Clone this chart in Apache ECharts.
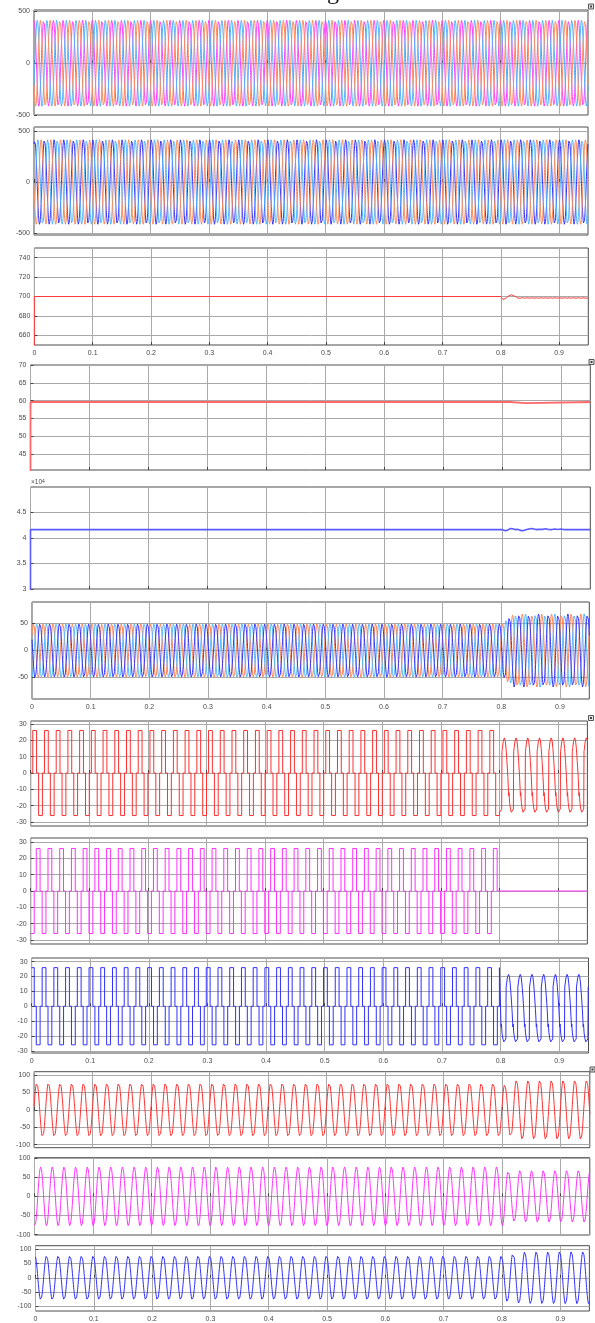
<!DOCTYPE html>
<html>
<head>
<meta charset="utf-8">
<script src="https://cdn.jsdelivr.net/npm/echarts@6/dist/echarts.min.js"></script>
<style>
  html, body { margin: 0; padding: 0; background: #ffffff; }
  #chart { width: 595px; height: 1323px; }
</style>
</head>
<body>
<div id="chart"></div>
<script>
// ---------- time base ----------
const tEnd = 0.95;                 // simulation stop time (s)
const tStep = 0.0002;              // sample step for the sinusoidal traces
const tLoadChange = 0.8;           // instant of the load change
const xTicks = [0, 0.1, 0.2, 0.3, 0.4, 0.5, 0.6, 0.7, 0.8, 0.9];

// ---------- grid-side three-phase quantities ----------
const gridHz = 60;
const voltTicks = [-500, 0, 500];
const voltPeak = 415;
const voltPeakMs = [0.0, 5.56, 11.11];          // phase a, b, c crest positions in the cycle
const busVoltColors = ['#ff3dff', '#4fb4ff', '#ff8a5a'];
const loadVoltColors = ['#3434ff', '#4fb4ff', '#ff8a5a'];

const currentTicks = [-50, 0, 50];
const currentPeakMs = [2.5, 8.06, 13.61];
const currentAmpKeys = [[0, 50], [0.803, 50], [0.812, 60], [0.822, 68], [0.95, 68]];
const currentColors = ['#ff8452', '#50b8ff', '#3434ff'];

// ---------- DC link voltage (V) ----------
const dcTicks = [660, 680, 700, 720, 740];
const dcTrace = [
  [0, 600], [0, 700], [0.8, 700], [0.802, 698.5], [0.804, 696.8], [0.807, 697.2],
  [0.81, 698.8], [0.814, 700.8], [0.818, 701.8], [0.821, 701.6], [0.825, 700],
  [0.829, 698.4], [0.833, 698.2], [0.837, 698.7], [0.841, 698.2], [0.845, 698.7],
  [0.849, 698.2], [0.853, 698.7], [0.857, 698.2], [0.861, 698.7], [0.865, 698.2],
  [0.869, 698.7], [0.873, 698.2], [0.877, 698.7], [0.881, 698.2], [0.885, 698.7],
  [0.889, 698.2], [0.893, 698.7], [0.897, 698.2], [0.901, 698.7], [0.905, 698.2],
  [0.909, 698.7], [0.913, 698.2], [0.917, 698.7], [0.921, 698.2], [0.925, 698.7],
  [0.929, 698.2], [0.933, 698.7], [0.937, 698.2], [0.941, 698.7], [0.945, 698.2],
  [0.95, 698.5]
];

// ---------- measured frequency (Hz) ----------
const freqTicks = [45, 50, 55, 60, 65, 70];
const freqTrace = [[0, 0], [0, 59.6], [0.814, 59.6], [0.814, 59.3], [0.84, 59.3], [0.84, 59.6], [0.95, 59.6]];

// ---------- power (W, shown x10^4) ----------
const powerTicks = [30000, 35000, 40000, 45000];
const powerTrace = [
  [0, 0], [0, 41650], [0.8, 41650], [0.803, 41500], [0.806, 41400], [0.81, 41550],
  [0.814, 41850], [0.818, 41800], [0.822, 41650], [0.826, 41700], [0.83, 41550],
  [0.834, 41450], [0.838, 41500], [0.842, 41650], [0.846, 41750], [0.85, 41850],
  [0.854, 41750], [0.858, 41650], [0.862, 41700], [0.87, 41700], [0.874, 41800],
  [0.878, 41700], [0.885, 41650], [0.89, 41750], [0.895, 41650], [0.9, 41750],
  [0.905, 41650], [0.95, 41650]
];

// ---------- H-bridge output voltages ----------
const bridgeHz = 50;
const bridgeTicks = [-30, -20, -10, 0, 10, 20, 30];
// one 20 ms cycle as [ms from cycle start, level held until the next step]
const bridgeStepsA = [[0, 0], [3.5, 26], [10, 0], [13.5, -26]];
const bridgeStepsB = [[0, -26], [6, 0], [9.5, 26], [16, 0], [19.5, -26]];
const bridgeStepsC = [[0, 26], [4.5, 0], [8, -26], [14.5, 0], [18, 26]];
const bridgeStopB = 0.799;          // phase B bridge switched off
// one cycle after the load change, [ms, value]
const bridgeAfterCycle = [
  [0, -22], [0.5, 13], [1.2, 15], [2.5, 19], [4.5, 21.5], [6, 20], [7.5, 15],
  [9, 7], [10.5, -2], [11.5, -10], [12, -14], [12.5, -12], [13.5, -18],
  [15, -22], [16.5, -24], [18, -25], [19.5, -23]
];
const bridgeAfterOriginA = 0.8037;
const bridgeAfterOriginC = 0.809;

// ---------- filtered output voltages ----------
const outTicks = [-100, -50, 0, 50, 100];
const outPeakMs = [4.6, 10.6, 19.0];
const outAmpKeysA = [[0, 78], [0.8, 78], [0.806, 70], [0.822, 86], [0.95, 86]];
const outAmpKeysB = [[0, 77], [0.8, 77], [0.813, 64], [0.83, 68], [0.95, 68]];
const outAmpKeysC = [[0, 77], [0.8, 77], [0.815, 88], [0.84, 91], [0.95, 92]];

// ---------- trace builders ----------
function envelope(keys, t) {
  for (let i = 1; i < keys.length; i++) {
    if (t <= keys[i][0]) {
      const [t0, a0] = keys[i - 1], [t1, a1] = keys[i];
      return a0 + (a1 - a0) * (t - t0) / (t1 - t0);
    }
  }
  return keys[keys.length - 1][1];
}

function sineTrace(freq, peakMs, ampKeys) {
  const pts = [];
  const n = Math.round(tEnd / tStep);
  for (let i = 0; i <= n; i++) {
    const t = i * tStep;
    pts.push([t, envelope(ampKeys, t) * Math.cos(2 * Math.PI * freq * (t - peakMs / 1000))]);
  }
  return pts;
}

function stepTrace(steps, tTo) {
  const periodMs = 1000 / bridgeHz;
  const pts = [];
  let prev = null;
  for (let k = 0; ; k++) {
    for (const [ms, lvl] of steps) {
      const t = (k * periodMs + ms) / 1000;
      if (t >= tTo) { pts.push([tTo, prev]); return pts; }
      if (prev !== null) pts.push([t, prev]);
      pts.push([t, lvl]);
      prev = lvl;
    }
  }
}

function cycleTrace(cycle, origin, tFrom, tTo) {
  const periodMs = 1000 / bridgeHz;
  const pts = [];
  const kStart = Math.floor((tFrom - origin) * 1000 / periodMs) - 1;
  for (let k = kStart; ; k++) {
    for (const [ms, v] of cycle) {
      const t = origin + (k * periodMs + ms) / 1000;
      if (t > tTo) return pts;
      if (t >= tFrom) pts.push([t, v]);
    }
  }
}

// ---------- layout: [left, top, right edge, bottom edge] in px ----------
const layout = [
  [34, 10, 588, 115],
  [34, 127, 588, 235],
  [34.4, 248, 588.3, 345],
  [30.5, 365, 590.3, 470],
  [30.5, 487, 590.3, 589],
  [32, 602, 589.3, 699],
  [30.7, 721, 587.4, 826],
  [30.7, 838, 587.4, 944],
  [31.6, 958, 588.5, 1053],
  [34.1, 1071.7, 589.8, 1147.7],
  [34.5, 1157.7, 589.8, 1235],
  [35.5, 1245.7, 589.4, 1315]
];
const yRanges = [
  [-500, 515], [-520, 540], [650, 750], [40.5, 70], [30000, 50000], [-90, 90],
  [-32.4, 31.8], [-32.4, 32.4], [-31.5, 32.5], [-109, 110], [-101, 101], [-116, 112]
];
const yTickSets = [
  voltTicks, voltTicks, dcTicks, freqTicks, powerTicks, currentTicks,
  bridgeTicks, bridgeTicks, bridgeTicks, outTicks, outTicks, outTicks
];
const xLabelPanels = [2, 5, 8, 11];

const FONT = "'Liberation Sans', Arial, sans-serif";
const labelColor = '#4a4a4a';
const gridLineColor = '#a9a9a9';

const grids = [], xAxes = [], yAxes = [];
layout.forEach(([l, t, r, b], i) => {
  grids.push({
    left: l, top: t, width: r - l, height: b - t,
    show: true, backgroundColor: '#ffffff', borderColor: '#4d4d4d', borderWidth: 1
  });
  xAxes.push({
    gridIndex: i, type: 'value', min: 0, max: tEnd,
    axisLine: { show: false },
    axisTick: { show: true, inside: true, length: 3, customValues: xTicks, lineStyle: { color: '#444' } },
    axisLabel: {
      show: xLabelPanels.includes(i), customValues: xTicks,
      fontSize: 7, color: labelColor, margin: 5, fontFamily: FONT
    },
    splitLine: { show: true, lineStyle: { color: gridLineColor, width: 1 } }
  });
  yAxes.push({
    gridIndex: i, type: 'value', min: yRanges[i][0], max: yRanges[i][1],
    axisLine: { show: false },
    axisTick: { show: true, inside: true, length: 3, customValues: yTickSets[i], lineStyle: { color: '#444' } },
    axisLabel: {
      customValues: yTickSets[i], fontSize: 7, color: labelColor, margin: 4, fontFamily: FONT,
      formatter: i === 4 ? (v => String(v / 10000)) : (v => String(v))
    },
    splitLine: { show: true, lineStyle: { color: gridLineColor, width: 1 } }
  });
});

const series = [];
function addLine(panel, data, color, width) {
  series.push({
    type: 'line', xAxisIndex: panel, yAxisIndex: panel, data: data,
    showSymbol: false, symbol: 'none', clip: true, silent: true,
    animation: false, progressive: 0,
    lineStyle: { color: color, width: width || 1 }
  });
}

// panels 1-2: three-phase voltages
voltPeakMs.forEach((pk, j) => addLine(0, sineTrace(gridHz, pk, [[0, voltPeak], [tEnd, voltPeak]]), busVoltColors[j], 1));
voltPeakMs.forEach((pk, j) => addLine(1, sineTrace(gridHz, pk + 1.2, [[0, voltPeak], [tEnd, voltPeak]]), loadVoltColors[j], 1));
// panel 3: DC link
addLine(2, dcTrace, '#ff3b3b', 1);
// panel 4: frequency
addLine(3, freqTrace, '#ff6868', 1.8);
// panel 5: power
addLine(4, powerTrace, '#5a5aff', 1.6);
// panel 6: three-phase currents
currentPeakMs.forEach((pk, j) => addLine(5, sineTrace(gridHz, pk, currentAmpKeys), currentColors[j], 1));
// panels 7-9: bridge output voltages
addLine(6, stepTrace(bridgeStepsA, tLoadChange).concat(cycleTrace(bridgeAfterCycle, bridgeAfterOriginA, tLoadChange, tEnd)), '#ff3030', 1);
addLine(7, stepTrace(bridgeStepsB, bridgeStopB).concat([[bridgeStopB, 0], [tEnd, 0]]), '#ff30ff', 1);
addLine(8, stepTrace(bridgeStepsC, tLoadChange).concat(cycleTrace(bridgeAfterCycle, bridgeAfterOriginC, tLoadChange, tEnd)), '#3030ff', 1);
// panels 10-12: filtered outputs
addLine(9, sineTrace(bridgeHz, outPeakMs[0], outAmpKeysA), '#ff3030', 1);
addLine(10, sineTrace(bridgeHz, outPeakMs[1], outAmpKeysB), '#ff30ff', 1);
addLine(11, sineTrace(bridgeHz, outPeakMs[2], outAmpKeysC), '#3030ff', 1);

// scope toolbar buttons and annotations
const buttonSpots = [[588.5, 4], [589, 359.5], [588.5, 715.5], [590, 1067]];
const graphics = buttonSpots.map(([x, y]) => ({
  type: 'group', x: x, y: y, children: [
    { type: 'rect', shape: { x: 0, y: 0, width: 5, height: 5 }, style: { fill: '#e6e6e6', stroke: '#555', lineWidth: 1 } },
    { type: 'rect', shape: { x: 1.5, y: 1.5, width: 2, height: 2 }, style: { fill: '#444' } }
  ]
}));
graphics.push({
  type: 'text', left: 31, top: 479,
  style: {
    text: '×10{s|4}', fontSize: 6.5, fill: labelColor, fontFamily: FONT,
    rich: { s: { fontSize: 5, verticalAlign: 'top', fill: labelColor, fontFamily: FONT } }
  }
});
graphics.push({
  type: 'text', x: 327, y: 5,
  style: { text: 'g', fontSize: 24, fill: '#111', fontFamily: "'Liberation Serif', 'DejaVu Serif', serif", verticalAlign: 'bottom' }
});

const chart = echarts.init(document.getElementById('chart'), null, { renderer: 'canvas', width: 595, height: 1323 });
chart.setOption({
  animation: false,
  backgroundColor: '#ffffff',
  grid: grids,
  xAxis: xAxes,
  yAxis: yAxes,
  series: series,
  graphic: graphics
});
</script>
</body>
</html>
